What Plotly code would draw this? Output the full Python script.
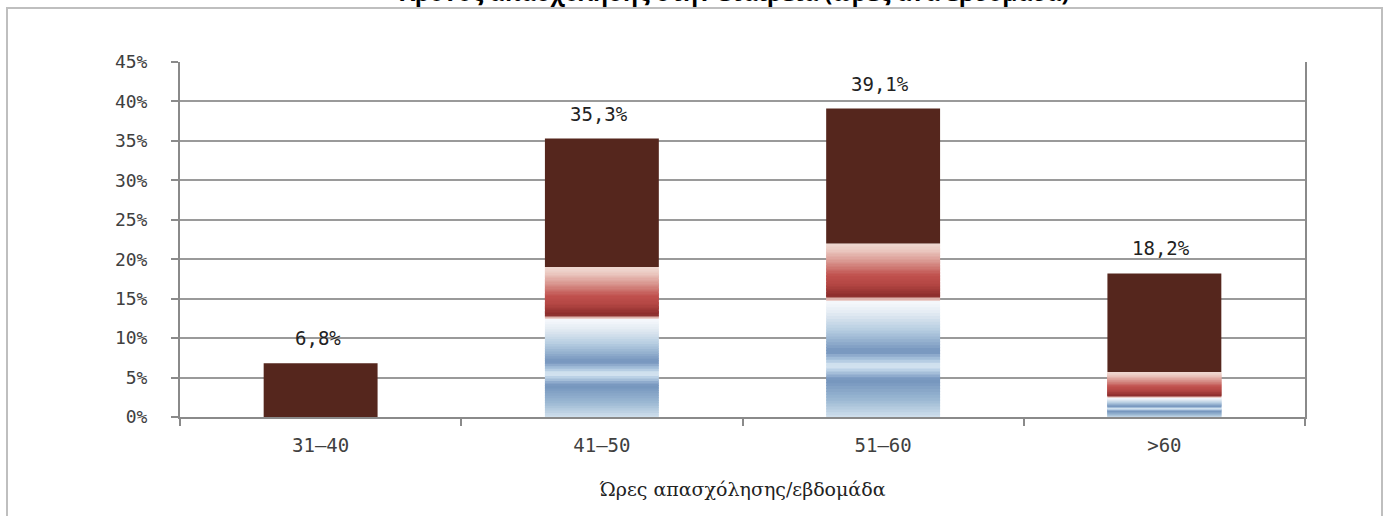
import plotly.graph_objects as go

# ---------------- data ----------------
categories = ["31–40", "41–50", "51–60", ">60"]
blue_seg = [0.0, 12.5, 14.8, 2.5]
red_seg = [0.0, 6.5, 7.2, 3.2]
brown_seg = [6.8, 16.3, 17.1, 12.5]
totals = [6.8, 35.3, 39.1, 18.2]
total_labels = ["6,8%", "35,3%", "39,1%", "18,2%"]
y_ticks = [0, 5, 10, 15, 20, 25, 30, 35, 40, 45]
y_tick_labels = ["0%", "5%", "10%", "15%", "20%", "25%", "30%", "35%", "40%", "45%"]

title_text = "Χρόνος απασχόλησης στην εταιρεία (ώρες ανά εβδομάδα)"
x_title = "Ώρες απασχόλησης/εβδομάδα"

# ---------------- styling ----------------
W, H = 1387, 516
PL, PR, PT, PB = 180, 1305, 62, 417  # plot area pixels
YMAX = 45

blue_stops = [
    (0.00, "#d4e2ee"), (0.15, "#9dbad4"), (0.33, "#7393bc"), (0.41, "#b9cfe5"),
    (0.45, "#dce9f4"), (0.49, "#b3cbe2"), (0.57, "#7494bd"), (0.75, "#b5cce0"),
    (0.90, "#e3ebf3"), (1.00, "#f7f9fc"),
]
red_stops = [
    (0.00, "#f2dcd8"), (0.04, "#dcb0aa"), (0.09, "#8a2b2a"), (0.30, "#b44744"),
    (0.45, "#c0504d"), (0.70, "#d9968f"), (0.90, "#ebc9c1"), (1.00, "#efd8d1"),
]
BROWN = "#55261d"
N = 40


def hex2rgb(h):
    h = h.lstrip("#")
    return tuple(int(h[i:i + 2], 16) for i in (0, 2, 4))


def interp(stops, t):
    for (t0, c0), (t1, c1) in zip(stops[:-1], stops[1:]):
        if t0 <= t <= t1:
            f = 0 if t1 == t0 else (t - t0) / (t1 - t0)
            a, b = hex2rgb(c0), hex2rgb(c1)
            return "rgb(%d,%d,%d)" % tuple(round(a[k] + (b[k] - a[k]) * f) for k in range(3))
    return stops[-1][1]


fig = go.Figure()
bar_width = 0.405


def add_gradient(seg, lower, stops):
    for i in range(N):
        t = (i + 0.5) / N
        bases, heights = [], []
        for s, lo in zip(seg, lower):
            step = s / N
            start = lo + step * (i - 0.4 if i > 0 else i)
            end = lo + step * (i + 1)
            bases.append(start)
            heights.append(end - start)
        fig.add_trace(go.Bar(
            x=categories, y=heights, base=bases, width=bar_width,
            marker=dict(color=interp(stops, t), line=dict(width=0)),
            hoverinfo="skip", showlegend=False,
        ))


zeros = [0.0] * len(categories)
add_gradient(blue_seg, zeros, blue_stops)
red_lower = [b for b in blue_seg]
add_gradient(red_seg, red_lower, red_stops)
brown_lower = [b + r for b, r in zip(blue_seg, red_seg)]
fig.add_trace(go.Bar(
    x=categories, y=brown_seg, base=brown_lower, width=bar_width,
    marker=dict(color=BROWN, line=dict(width=0)),
    hoverinfo="skip", showlegend=False,
))

for c, tot, lab in zip(categories, totals, total_labels):
    fig.add_annotation(
        x=c, y=tot, text=lab, showarrow=False, xref="x", yref="y",
        yanchor="middle", yshift=25, xshift=-3,
        font=dict(family="DejaVu Sans Mono", size=19, color="#222222"),
    )


def px2paper_x(p):
    return (p - PL) / (PR - PL)


def px2paper_y(p):
    return (PB - p) / (PB - PT)


# outer frame
fig.add_shape(
    type="rect", xref="paper", yref="paper",
    x0=px2paper_x(7), x1=px2paper_x(1382), y0=px2paper_y(540), y1=px2paper_y(8),
    line=dict(color="#bfbfbf", width=2), fillcolor="rgba(0,0,0,0)", layer="below",
)

fig.add_annotation(
    x=px2paper_x(734), y=px2paper_y(10), xref="paper", yref="paper",
    text="<b>" + title_text + "</b>", showarrow=False,
    xanchor="center", yanchor="bottom",
    font=dict(family="Open Sans", size=23, color="#000000"),
)

fig.update_layout(
    width=W, height=H,
    margin=dict(l=PL, r=W - PR, t=PT, b=H - PB, pad=0),
    paper_bgcolor="white", plot_bgcolor="white",
    barmode="overlay", bargap=0.595,
    showlegend=False,
    font=dict(family="DejaVu Sans Mono", size=16, color="#404040"),
)
fig.update_yaxes(
    range=[0, YMAX], tickvals=y_ticks, ticktext=y_tick_labels,
    showgrid=True, gridcolor="#9a9a9a", gridwidth=1.5,
    showline=True, linecolor="#8a8a8a", linewidth=2, mirror=True,
    ticks="outside", ticklen=7, tickcolor="#8a8a8a", tickwidth=2,
    ticklabelstandoff=20, zeroline=False,
    tickfont=dict(family="DejaVu Sans Mono", size=18, color="#404040"),
)
fig.update_xaxes(
    showline=True, linecolor="#8a8a8a", linewidth=2,
    ticks="outside", ticklen=7, tickcolor="#8a8a8a", tickwidth=2,
    tickson="boundaries", ticklabelstandoff=10,
    tickfont=dict(family="DejaVu Sans Mono", size=19, color="#404040"),
    title=dict(text=x_title, standoff=28,
               font=dict(family="DejaVu Serif", size=19, color="#222222")),
)

fig.write_html("out.html")
